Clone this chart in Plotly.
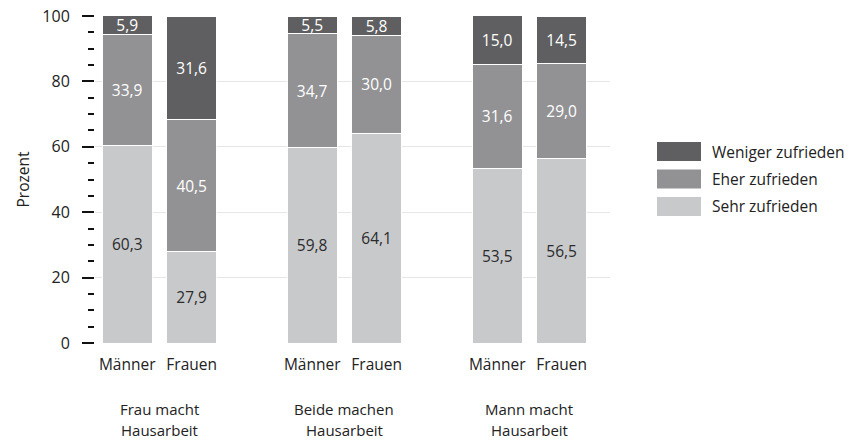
import plotly.graph_objects as go

groups = ["Frau macht<br>Hausarbeit", "Beide machen<br>Hausarbeit", "Mann macht<br>Hausarbeit"]
sexes = ["Männer", "Frauen"]
series_names = ["Sehr zufrieden", "Eher zufrieden", "Weniger zufrieden"]
sehr = [60.3, 27.9, 59.8, 64.1, 53.5, 56.5]
eher = [33.9, 40.5, 34.7, 30.0, 31.6, 29.0]
weniger = [5.9, 31.6, 5.5, 5.8, 15.0, 14.5]
y_ticks = [0, 20, 40, 60, 80, 100]

colors = ["#c8c9cb", "#929295", "#5f5f61"]
text_colors = ["#2b2b2b", "#ffffff", "#ffffff"]
FONT = "Open Sans"

# geometry in screen pixels (page body margin removed below)
W, H = 853, 441
PL, PR, PT, PB = 95, 610, 16, 343  # plot area
ML, MT, MR, MB = PL, PT, W - PR, H - PB

def px_x(x):
    return (x - PL) / (PR - PL)

def px_y(y):
    return (PB - y) / (PB - PT)

GROUP_STEP = 2.87
xpos = []
for g in range(len(groups)):
    for i in range(len(sexes)):
        xpos.append(g * GROUP_STEP + i)
ticktext = sexes * len(groups)

fig = go.Figure()
for name, vals, col, tcol in zip(series_names, [sehr, eher, weniger], colors, text_colors):
    fig.add_trace(go.Bar(
        x=xpos, y=vals, name=name, width=0.775,
        marker=dict(color=col, line=dict(color="white", width=1)),
        text=[f"{v:.1f}".replace(".", ",") for v in vals],
        textposition="inside", insidetextanchor="middle", textangle=0,
        constraintext="none",
        textfont=dict(family=FONT, size=15.5, color=tcol),
        showlegend=False, hoverinfo="skip",
    ))

annotations = []
for g, label in enumerate(groups):
    for j, line in enumerate(label.split("<br>")):
        annotations.append(dict(
            x=g * GROUP_STEP + 0.5, xref="x", y=px_y(409 + 20.5 * j), yref="paper",
            text=line, showarrow=False, align="center",
            font=dict(family=FONT, size=15, color="#222"),
            xanchor="center", yanchor="middle",
        ))

shapes = []
legend_order = [2, 1, 0]
for k, idx in enumerate(legend_order):
    top = 142 + k * 27.5
    shapes.append(dict(
        type="rect", xref="paper", yref="paper",
        x0=px_x(657), x1=px_x(701), y0=px_y(top), y1=px_y(top + 19),
        fillcolor=colors[idx], line=dict(width=0),
    ))
    annotations.append(dict(
        x=px_x(710), y=px_y(top + 9.5), xref="paper", yref="paper",
        text=series_names[idx], showarrow=False, xanchor="left", yanchor="middle",
        font=dict(family=FONT, size=15.5, color="#222"),
    ))

fig.update_layout(
    width=W, height=H,
    margin=dict(l=ML, r=MR, t=MT, b=MB, pad=0, autoexpand=False),
    barmode="stack",
    plot_bgcolor="white", paper_bgcolor="white",
    font=dict(family=FONT, size=15, color="#222"),
    annotations=annotations, shapes=shapes,
    showlegend=False,
    xaxis=dict(
        range=[-0.5, 7.49], tickvals=xpos, ticktext=ticktext,
        showgrid=False, zeroline=False, showline=False, ticks="",
        tickfont=dict(family=FONT, size=15.5, color="#222"),
        ticklabelstandoff=10, automargin=False,
    ),
    yaxis=dict(
        range=[0, 100], tickvals=y_ticks, ticks="outside", ticklen=12, tickwidth=2,
        tickcolor="#111", showgrid=True, gridcolor="#e6e6e6", gridwidth=1,
        zeroline=False, showline=False, automargin=False,
        tickfont=dict(family=FONT, size=16, color="#222"),
        ticklabelstandoff=9, ticklabeloverflow="allow",
        minor=dict(dtick=5, ticks="outside", ticklen=6, tickwidth=2, tickcolor="#111", showgrid=False),
        title=dict(text="Prozent", font=dict(family=FONT, size=15.5, color="#222"), standoff=8),
    ),
)

fig.write_html("out.html", config={"displayModeBar": False},
               post_script="document.body.style.margin='0px';")
